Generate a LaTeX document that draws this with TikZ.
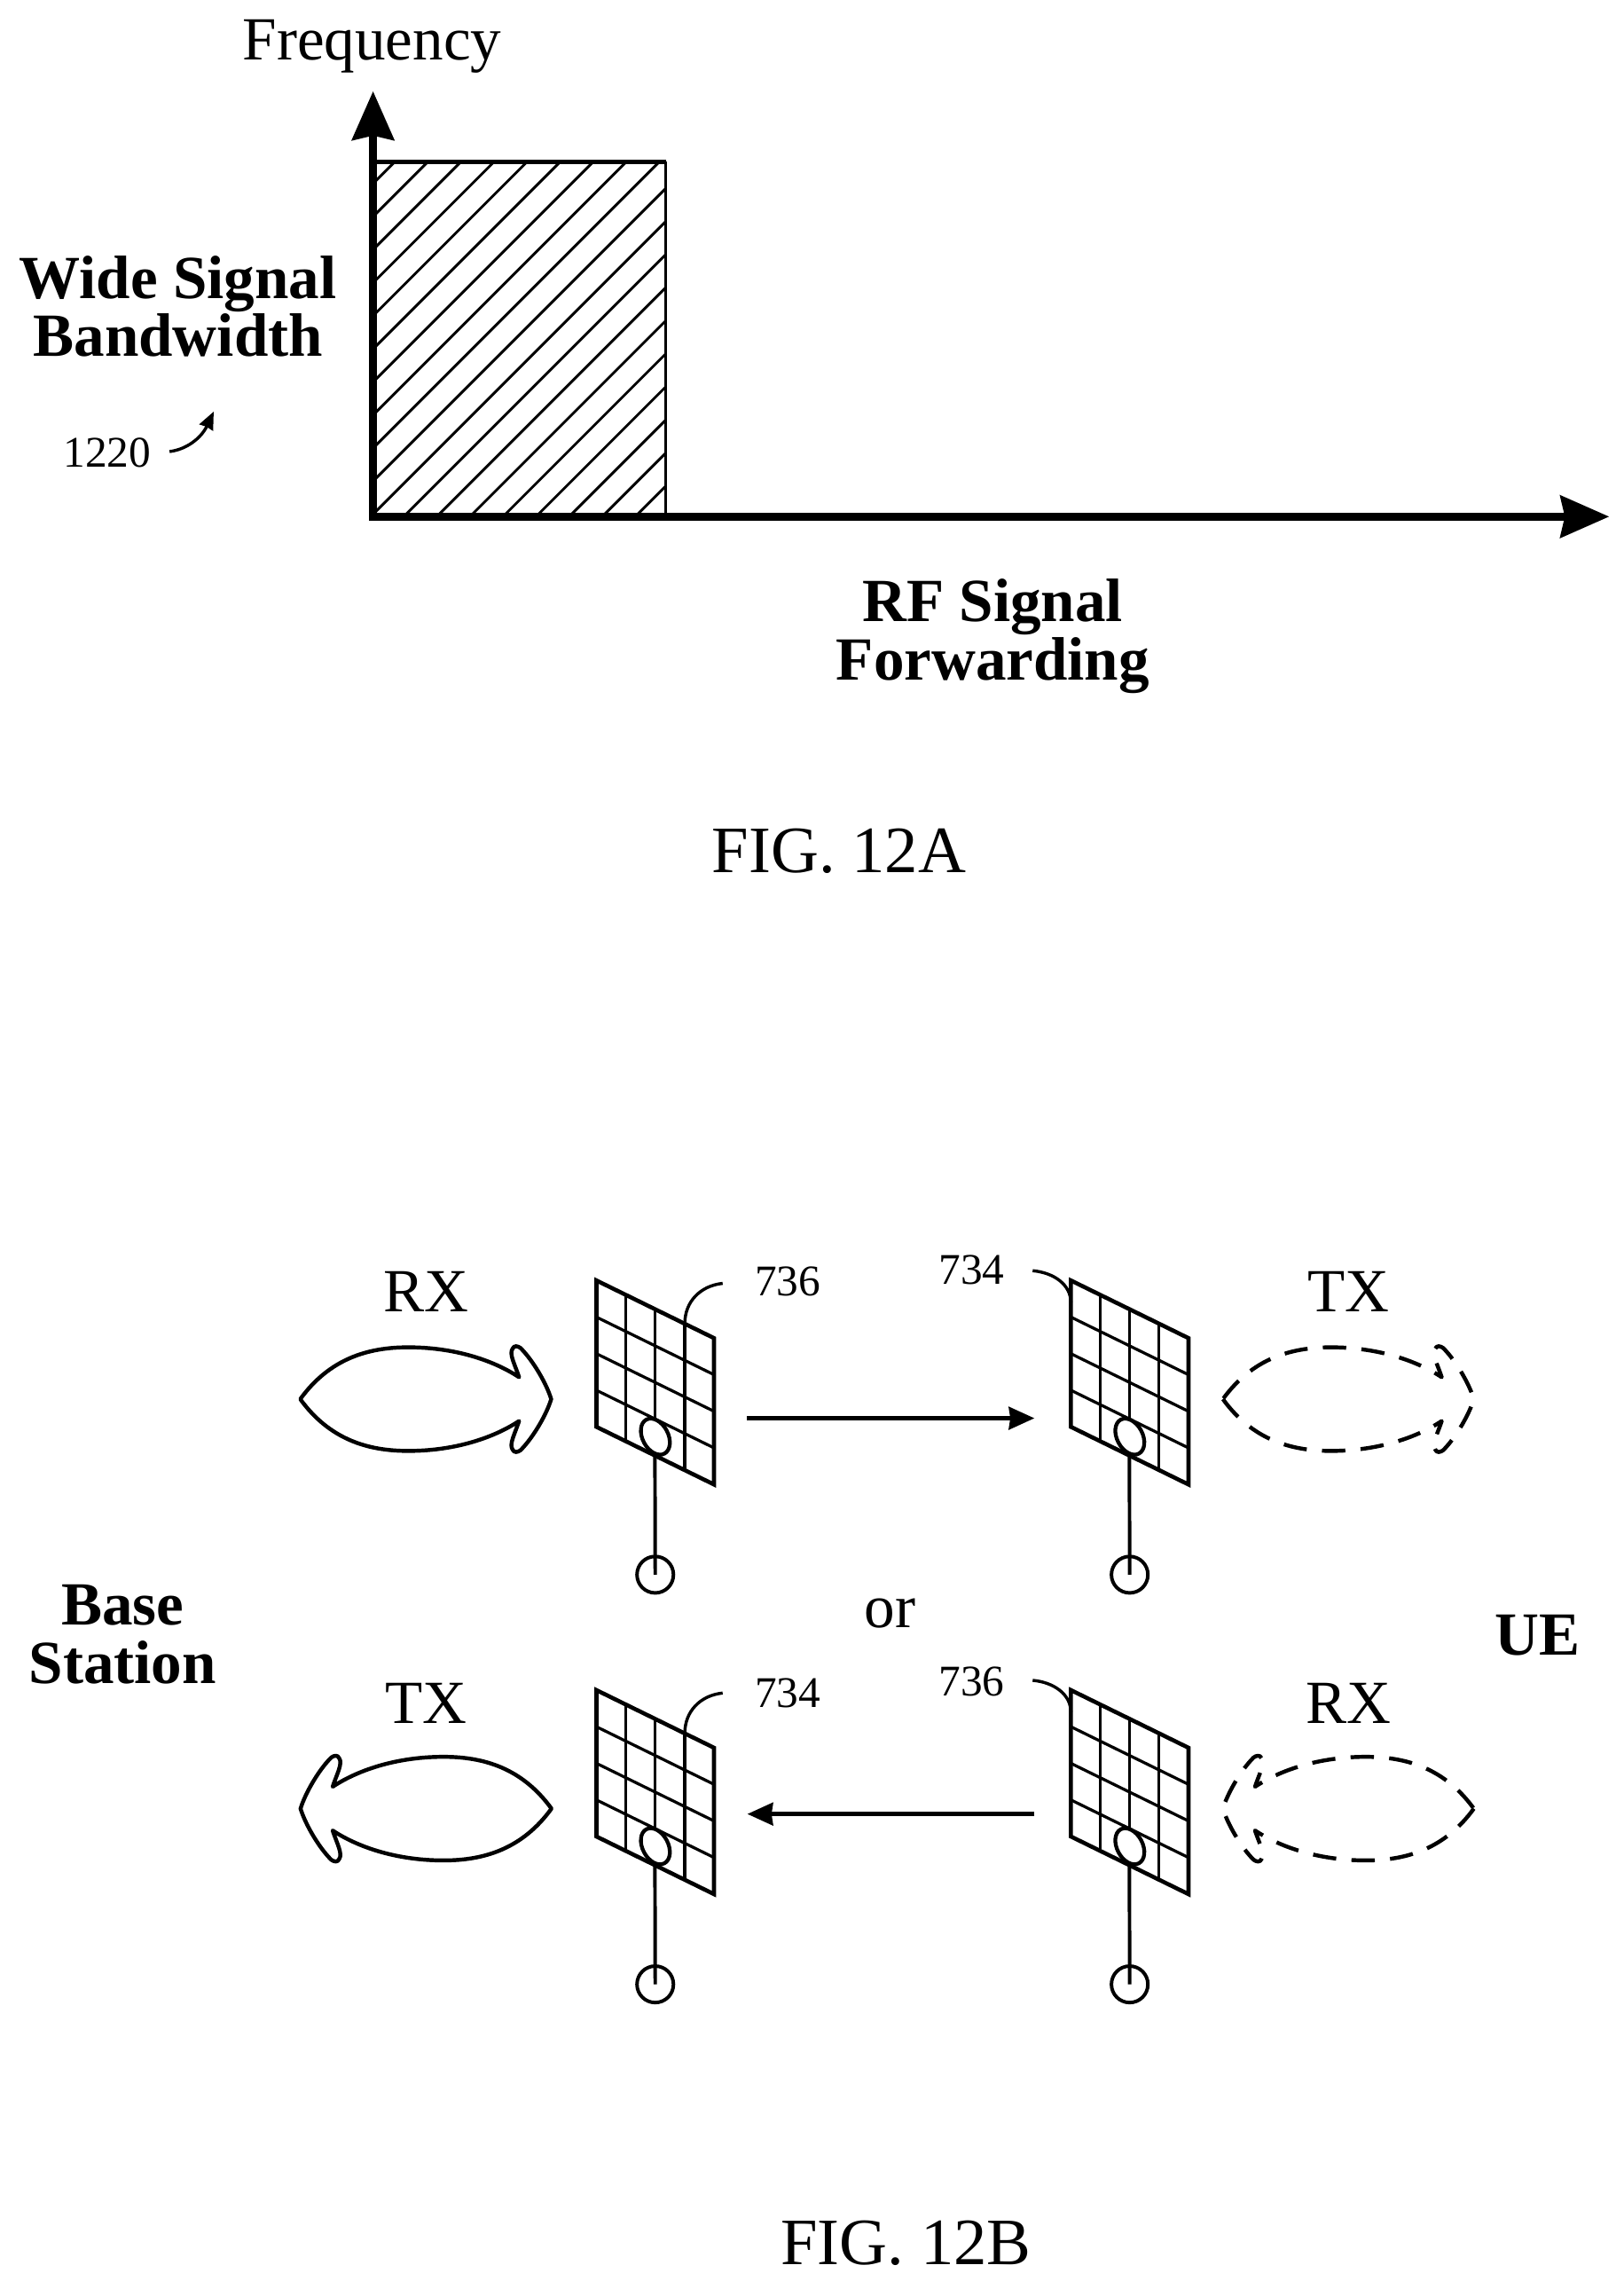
\documentclass[tikz,border=0pt]{standalone}
\usepackage{fontspec}
\setmainfont{Liberation Serif}
\usetikzlibrary{arrows.meta,calc,shapes.geometric}
\tikzset{
  lbl/.style={inner sep=0pt,outer sep=0pt,anchor=base,font=\fontsize{42}{40}\selectfont},
  boldlbl/.style={inner sep=0pt,outer sep=0pt,align=center,font=\fontsize{42}{40}\selectfont\bfseries},
  figlbl/.style={lbl,font=\fontsize{45.4}{45}\selectfont},
  reflbl/.style={lbl,font=\fontsize{30}{30}\selectfont},
  axis/.style={line width=5.3pt,miter limit=10,{Stealth[length=33.4pt,width=28.6pt,inset=3pt]}-{Stealth[length=33.4pt,width=28.6pt,inset=3pt]}},
  hatchline/.style={line width=1.8pt},
  panelframe/.style={line width=2.8pt,line join=miter},
  panelgrid/.style={line width=2pt},
  feed/.style={line width=2.4pt},
  leader/.style={line width=2.1pt},
  link/.style={line width=2.7pt,-{Stealth[length=17.5pt,width=15.5pt,inset=1pt]}},
  beam/.style={line width=2.7pt,line join=round},
  dashedbeam/.style={beam,dash pattern=on 16pt off 10.5pt},
}
\newcommand{\antennaunit}[3]{%
  \begin{scope}[shift={(#2,#3)}]
    \coordinate (#1tl) at (408.8,877.4);
    \coordinate (#1tr) at (489.4,916.9);
    \coordinate (#1br) at (489.4,1017.2);
    \coordinate (#1bl) at (408.8,977.7);
    \foreach \t in {0.25,0.5,0.75}{
      \draw[panelgrid] ($(#1tl)!\t!(#1tr)$) -- ($(#1bl)!\t!(#1br)$);
      \draw[panelgrid] ($(#1tl)!\t!(#1bl)$) -- ($(#1tr)!\t!(#1br)$);
    }
    \draw[panelframe] (#1tl) -- (#1tr) -- (#1br) -- (#1bl) -- cycle;
    \node[ellipse,draw,fill=white,line width=2.6pt,inner sep=0pt,outer sep=0pt,minimum width=17.6pt,minimum height=26.4pt,rotate=28] (#1elem) at (449.2,984.4) {};
    \coordinate (#1feedtop) at (448.9,997);
    \node[circle,draw,line width=2.4pt,inner sep=0pt,outer sep=0pt,minimum size=25pt] (#1port) at (449.1,1079) {};
    \draw[feed] (#1feedtop) -- (#1port.center);
  \end{scope}}
\newcommand{\lobeshape}[4]{%
  \begin{scope}[shift={(#2,#3)},xscale=#4]
    \draw[#1] (-86,0)
      .. controls (-66,27.5) and (-40,35.5) .. (-12,35.5)
      .. controls (18,35.5) and (45,27.5) .. (64,15)
      .. controls (61,24) and (57,31) .. (59.5,34.5)
      .. controls (60.5,37) and (63,36.5) .. (65,35)
      .. controls (74,26) and (83,10) .. (86,0)
      .. controls (83,-10) and (74,-26) .. (65,-35)
      .. controls (63,-36.5) and (60.5,-37) .. (59.5,-34.5)
      .. controls (57,-31) and (61,-24) .. (64,-15)
      .. controls (45,-27.5) and (18,-35.5) .. (-12,-35.5)
      .. controls (-40,-35.5) and (-66,-27.5) .. (-86,0) -- cycle;
  \end{scope}}
\begin{document}
\begin{tikzpicture}[x=1pt,y=-1pt]
\useasboundingbox (0,0) rectangle (1113,1563);
% FIG 12A
\coordinate (ytip) at (255.7,62.5);
\coordinate (origin) at (255.7,354);
\coordinate (xtip) at (1103,354);
\coordinate (rectTL) at (255.7,110.8);
\coordinate (rectTR) at (456.3,110.8);
\coordinate (rectBR) at (456.3,354);
\begin{scope}
  \clip (rectTL) rectangle (rectBR);
  \foreach \k in {0,...,18}{
    \draw[hatchline] ({270.4+22.66*\k+110*1.01-60},{60}) -- ({270.4+22.66*\k+110*1.01-420},{420});
  }
\end{scope}
\draw[line width=3pt] (rectTL) -- (rectTR);
\draw[line width=2.2pt] (rectTR) -- (rectBR);
\draw[axis] (ytip) -- (origin) -- (xtip);
\node[lbl] (freq) at (255,41) {Frequency};
\node[boldlbl] (wsb) at (122,210) {Wide Signal\\Bandwidth};
\node[reflbl] (r1220) at (73.5,320) {1220};
\coordinate (r1220from) at (116.2,309.4);
\coordinate (r1220to) at (146.5,282);
\draw[leader,-{Stealth[length=12pt,width=10pt,inset=0.5pt]}] (r1220from) .. controls (128,308) and (138,300) .. (r1220to);
\node[boldlbl] (rfsf) at (680.5,436) {RF Signal\\Forwarding};
\node[figlbl] (fa) at (575,598) {FIG. 12A};
% FIG 12B
\antennaunit{a}{0}{0}
\antennaunit{b}{325.2}{0}
\antennaunit{c}{0}{280.7}
\antennaunit{d}{325.2}{280.7}
\coordinate (al) at (495.3,879.4);
\draw[leader] (al) .. controls (480,881) and (469.4,892) .. (469.4,906.8);
\coordinate (cl) at (495.3,1160.1);
\draw[leader] (cl) .. controls (480,1161.7) and (469.4,1172.7) .. (469.4,1187.5);
\coordinate (bl) at (707.8,870.7);
\draw[leader] (bl) .. controls (722,872) and (734,880) .. (734,892.6);
\coordinate (dl) at (707.8,1151.4);
\draw[leader] (dl) .. controls (722,1152.7) and (734,1160.7) .. (734,1173.3);
\lobeshape{beam}{291.8}{958.7}{1}
\lobeshape{dashedbeam}{924.2}{958.7}{1}
\lobeshape{beam}{292}{1239.3}{-1}
\lobeshape{dashedbeam}{924.2}{1239.3}{-1}
\coordinate (l1s) at (512,971.8);
\coordinate (l1e) at (709,971.8);
\draw[link] (l1s) -- (l1e);
\coordinate (l2s) at (709,1243);
\coordinate (l2e) at (512.3,1243);
\draw[link] (l2s) -- (l2e);
\node[lbl] (rx1) at (292,899) {RX};
\node[lbl] (tx1) at (924.5,899) {TX};
\node[lbl] (tx2) at (292,1181) {TX};
\node[lbl] (rx2) at (924.5,1181) {RX};
\node[reflbl] (n736a) at (540,888) {736};
\node[reflbl] (n734a) at (666,880) {734};
\node[reflbl] (n734b) at (540,1170) {734};
\node[reflbl] (n736b) at (666,1162) {736};
\node[lbl] (ortext) at (610,1115) {or};
\node[boldlbl] (bs) at (84,1120) {Base\\Station};
\node[lbl,font=\fontsize{42}{40}\selectfont\bfseries] (ue) at (1054,1134) {UE};
\node[figlbl] (fb) at (621,1552) {FIG. 12B};
\end{tikzpicture}
\end{document}
